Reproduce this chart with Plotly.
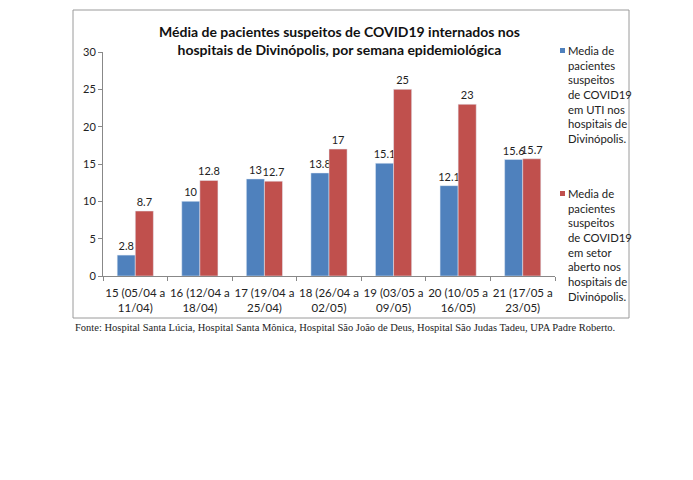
import plotly.graph_objects as go

categories = ["15 (05/04 a<br>11/04)", "16 (12/04 a<br>18/04)", "17 (19/04 a<br>25/04)",
              "18 (26/04 a<br>02/05)", "19 (03/05 a<br>09/05)", "20 (10/05 a<br>16/05)",
              "21 (17/05 a<br>23/05)"]
uti = [2.8, 10, 13, 13.8, 15.1, 12.1, 15.6]
aberto = [8.7, 12.8, 12.7, 17, 25, 23, 15.7]
uti_labels = ["2.8", "10", "13", "13.8", "15.1", "12.1", "15.6"]
aberto_labels = ["8.7", "12.8", "12.7", "17", "25", "23", "15.7"]
name_uti = "Media de<br>pacientes<br>suspeitos<br>de COVID19<br>em UTI nos<br>hospitais de<br>Divinópolis."
name_aberto = "Media de<br>pacientes<br>suspeitos<br>de COVID19<br>em setor<br>aberto nos<br>hospitais de<br>Divinópolis."
title = "Média de pacientes suspeitos de COVID19 internados nos<br>hospitais de Divinópolis, por semana epidemiológica"
footer = "Fonte: Hospital Santa Lúcia, Hospital Santa Mônica, Hospital São João de Deus, Hospital São Judas Tadeu, UPA Padre Roberto."

BLUE = "#4F81BD"
RED = "#C0504D"
FONT = "Lato"

fig = go.Figure()
fig.add_trace(go.Bar(x=categories, y=uti, marker_color=BLUE, text=uti_labels,
                     textposition="outside", constraintext="none", cliponaxis=False,
                     textfont=dict(family=FONT, size=11, color="#222"), showlegend=False))
fig.add_trace(go.Bar(x=categories, y=aberto, marker_color=RED, text=aberto_labels,
                     textposition="outside", constraintext="none", cliponaxis=False,
                     textfont=dict(family=FONT, size=11, color="#222"), showlegend=False))

# Plot area in pixels: x 103..555, y 52..276
W, H = 693, 480
L, R, T, B = 103, 555, 52, 276
pw, ph = R - L, B - T

def px(x):
    return (x - L) / pw

def py(y):
    return (B - y) / ph

fig.update_layout(
    width=W, height=H,
    margin=dict(l=L, r=W - R, t=T, b=H - B),
    paper_bgcolor="white", plot_bgcolor="white",
    barmode="group", bargap=0.44, bargroupgap=0,
    font=dict(family=FONT, size=11, color="#222"),
    xaxis=dict(showline=True, linecolor="#888", linewidth=1, ticks="outside",
               tickson="boundaries", ticklen=4, tickcolor="#888", tickangle=0,
               ticklabelstandoff=6,
               tickfont=dict(family=FONT, size=11.5, color="#222"), showgrid=False),
    yaxis=dict(range=[0, 30], dtick=5, showline=True, linecolor="#888", linewidth=1,
               ticks="outside", ticklen=4, tickcolor="#888", showgrid=False, zeroline=False,
               tickfont=dict(family=FONT, size=11, color="#222")),
)

# outer border
fig.add_shape(type="rect", xref="paper", yref="paper",
              x0=px(73), x1=px(629), y0=py(318), y1=py(10),
              line=dict(color="#9a9a9a", width=1), fillcolor="rgba(0,0,0,0)", layer="below")

# title
fig.add_annotation(text="<b>" + title + "</b>", xref="paper", yref="paper",
                   x=px(339), y=py(21), xanchor="center", yanchor="top", showarrow=False,
                   font=dict(family=FONT, size=14, color="#111"), align="center")

# legend (manual)
for name, color, ytop in [(name_uti, BLUE, 42), (name_aberto, RED, 185)]:
    fig.add_annotation(text=name, xref="paper", yref="paper", x=px(566), y=py(ytop),
                       xanchor="left", yanchor="top", showarrow=False, align="left",
                       font=dict(family=FONT, size=11.3, color="#222"))
    fig.add_shape(type="rect", xref="paper", yref="paper",
                  x0=px(560), x1=px(565), y0=py(ytop + 11), y1=py(ytop + 6),
                  fillcolor=color, line=dict(width=0))

# footer
fig.add_annotation(text=footer, xref="paper", yref="paper", x=px(73), y=py(320),
                   xanchor="left", yanchor="top", showarrow=False,
                   font=dict(family="Liberation Serif", size=10.5, color="#222"))

fig.write_html("out.html")
